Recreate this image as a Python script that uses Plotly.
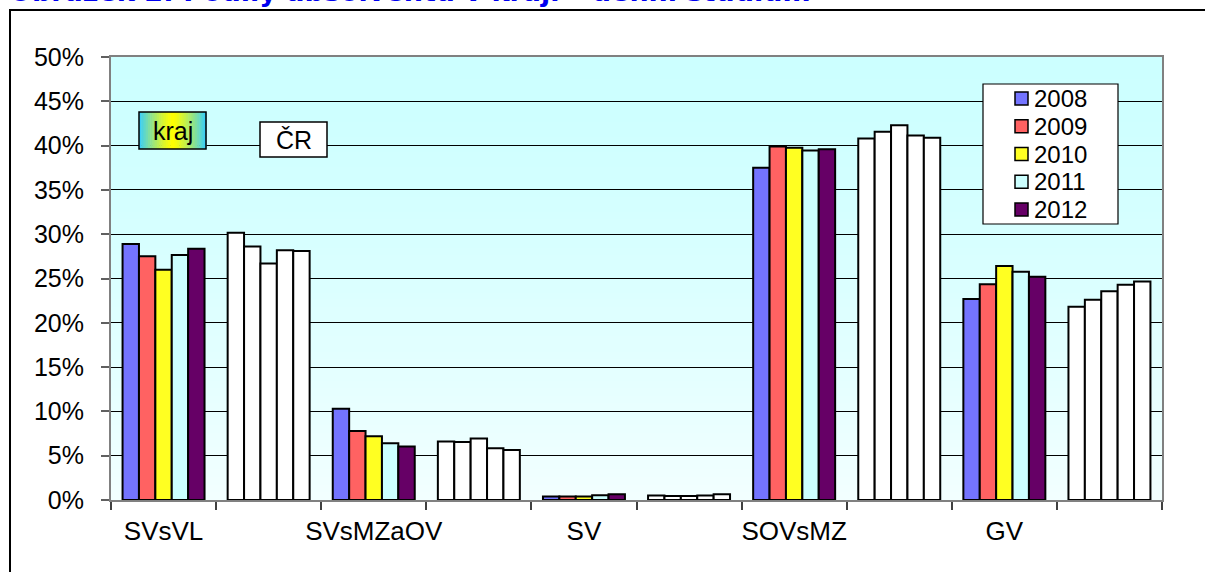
import plotly.graph_objects as go

# ---------------- data ----------------
categories = ["SVsVL", "SVsMZaOV", "SV", "SOVsMZ", "GV"]
years = ["2008", "2009", "2010", "2011", "2012"]

# kraj (region) values in %
kraj_2008 = [28.9, 10.3, 0.4, 37.5, 22.7]
kraj_2009 = [27.5, 7.8, 0.4, 39.9, 24.35]
kraj_2010 = [26.0, 7.2, 0.4, 39.75, 26.4]
kraj_2011 = [27.65, 6.4, 0.55, 39.45, 25.75]
kraj_2012 = [28.35, 6.05, 0.65, 39.6, 25.2]

# ČR (country) values in %
cr_2008 = [30.15, 6.6, 0.5, 40.8, 21.8]
cr_2009 = [28.6, 6.55, 0.45, 41.55, 22.6]
cr_2010 = [26.7, 6.95, 0.45, 42.3, 23.55]
cr_2011 = [28.2, 5.85, 0.5, 41.15, 24.3]
cr_2012 = [28.1, 5.65, 0.65, 40.9, 24.65]

year_colors = ["#7474FF", "#FF6262", "#FFFF22", "#CCFFFF", "#660066"]
y_ticks = [0, 5, 10, 15, 20, 25, 30, 35, 40, 45, 50]
y_tick_labels = ["0%", "5%", "10%", "15%", "20%", "25%", "30%", "35%", "40%", "45%", "50%"]

kraj_series = [kraj_2008, kraj_2009, kraj_2010, kraj_2011, kraj_2012]
cr_series = [cr_2008, cr_2009, cr_2010, cr_2011, cr_2012]

# ---------------- layout geometry ----------------
W, H = 1205, 572
PL, PR, PT, PB = 111, 1162, 57, 500


def fx(px):
    return (px - PL) / (PR - PL)


def fy(py):
    return (PB - py) / (PB - PT)


# slots: category followed by a blank ČR slot
slots = []
for i, c in enumerate(categories):
    slots += [c, " " * (i + 1)]

fig = go.Figure()
for yi, yr in enumerate(years):
    vals, cols = [], []
    for ci in range(len(categories)):
        vals += [kraj_series[yi][ci], cr_series[yi][ci]]
        cols += [year_colors[yi], "#FFFFFF"]
    fig.add_trace(go.Bar(
        x=slots, y=vals, name=yr,
        marker=dict(color=cols, line=dict(color="#000000", width=2)),
    ))

shapes = []


def hexrgb(h):
    h = h.lstrip("#")
    return tuple(int(h[i:i + 2], 16) for i in (0, 2, 4))


def mix(c1, c2, t):
    a, b = hexrgb(c1), hexrgb(c2)
    return "rgb(%d,%d,%d)" % tuple(round(a[k] + (b[k] - a[k]) * t) for k in range(3))


# plot background gradient (top cyan -> bottom very light)
N = 60
for i in range(N):
    t = i / (N - 1)
    shapes.append(dict(type="rect", xref="paper", yref="paper",
                       x0=0, x1=1, y0=1 - (i + 1) / N, y1=1 - i / N + 0.002,
                       fillcolor=mix("#CCFFFF", "#F2FFFF", t ** 1.4),
                       line=dict(width=0), layer="below"))

# 'kraj' label box with horizontal gradient
kx0, kx1, ky0, ky1 = 139, 206, 112, 149
M = 30
for i in range(M):
    t = (i + 0.5) / M
    d = abs(t - 0.5) * 2
    shapes.append(dict(type="rect", xref="paper", yref="paper",
                       x0=fx(kx0 + (kx1 - kx0) * i / M), x1=fx(kx0 + (kx1 - kx0) * (i + 1) / M) + 0.0005,
                       y0=fy(ky1), y1=fy(ky0),
                       fillcolor=mix("#FFFF00", "#33CCFF", d ** 1.3),
                       line=dict(width=0), layer="above"))
shapes.append(dict(type="rect", xref="paper", yref="paper",
                   x0=fx(kx0), x1=fx(kx1), y0=fy(ky1), y1=fy(ky0),
                   line=dict(color="#000000", width=1.5), layer="above"))

# 'ČR' label box
shapes.append(dict(type="rect", xref="paper", yref="paper",
                   x0=fx(260), x1=fx(327), y0=fy(157), y1=fy(122),
                   fillcolor="#FFFFFF", line=dict(color="#000000", width=1.5), layer="above"))

# legend box
shapes.append(dict(type="rect", xref="paper", yref="paper",
                   x0=fx(983), x1=fx(1118), y0=fy(224), y1=fy(84),
                   fillcolor="#FFFFFF", line=dict(color="#000000", width=1.2), layer="above"))

# outer chart frame
shapes.append(dict(type="rect", xref="paper", yref="paper",
                   x0=fx(10), x1=fx(1220), y0=fy(600), y1=fy(10),
                   line=dict(color="#000000", width=2)))

annotations = [
    dict(text="kraj", x=fx((kx0 + kx1) / 2), y=fy((ky0 + ky1) / 2), xref="paper", yref="paper",
         showarrow=False, xanchor="center", yanchor="middle",
         font=dict(family="Liberation Sans, Arial", size=25, color="#000000")),
    dict(text="ČR", x=fx(293.5), y=fy(139.5), xref="paper", yref="paper",
         showarrow=False, xanchor="center", yanchor="middle",
         font=dict(family="Liberation Sans, Arial", size=25, color="#000000")),
    dict(text="Obrázek 2: Podíly absolventů v kraji – denní studium", x=fx(7), y=fy(9),
         xref="paper", yref="paper", showarrow=False, xanchor="left", yanchor="bottom",
         font=dict(family="DejaVu Sans", size=27, color="#0000F0", weight="bold")),
]

# legend drawn as shapes + text (tight row spacing like the reference)
for yi, yr in enumerate(years):
    cy = 98.5 + 27.75 * yi
    shapes.append(dict(type="rect", xref="paper", yref="paper",
                       x0=fx(1015), x1=fx(1028), y0=fy(cy + 6.5), y1=fy(cy - 6.5),
                       fillcolor=year_colors[yi], line=dict(color="#000000", width=1.5),
                       layer="above"))
    annotations.append(dict(text=yr, x=fx(1032), y=fy(cy), xref="paper", yref="paper",
                            showarrow=False, xanchor="left", yanchor="middle",
                            font=dict(family="Liberation Sans, Arial", size=24, color="#000000")))

fig.update_layout(
    width=W, height=H,
    margin=dict(l=PL, r=W - PR, t=PT, b=H - PB, pad=0, autoexpand=False),
    paper_bgcolor="#FFFFFF", plot_bgcolor="#CCFFFF",
    barmode="group", bargap=0.22, bargroupgap=0,
    shapes=shapes, annotations=annotations,
    showlegend=False,
    font=dict(family="Liberation Sans, Arial", color="#000000"),
)

fig.update_xaxes(
    type="category", categoryorder="array", categoryarray=slots,
    tickson="boundaries", ticks="outside", ticklen=8, tickcolor="#404040", tickwidth=1.5,
    showline=True, linecolor="#808080", linewidth=2, mirror=True,
    tickfont=dict(family="Liberation Sans, Arial", size=26, color="#000000"),
    tickangle=0, automargin=False,
    ticklabelstandoff=7, showgrid=False,
)
fig.update_yaxes(
    range=[0, 50], tickvals=y_ticks, ticktext=y_tick_labels,
    ticks="outside", ticklen=8, tickcolor="#606060", tickwidth=1.5,
    showline=True, linecolor="#808080", linewidth=2, mirror=True,
    showgrid=True, gridcolor="#000000", gridwidth=1, zeroline=False,
    tickfont=dict(family="Liberation Sans, Arial", size=25, color="#000000"),
    automargin=False, ticklabelstandoff=12,
)

fig.write_html("out.html", config={"displayModeBar": False},
               post_script="document.body.style.margin='0px';document.body.style.overflow='hidden';")
